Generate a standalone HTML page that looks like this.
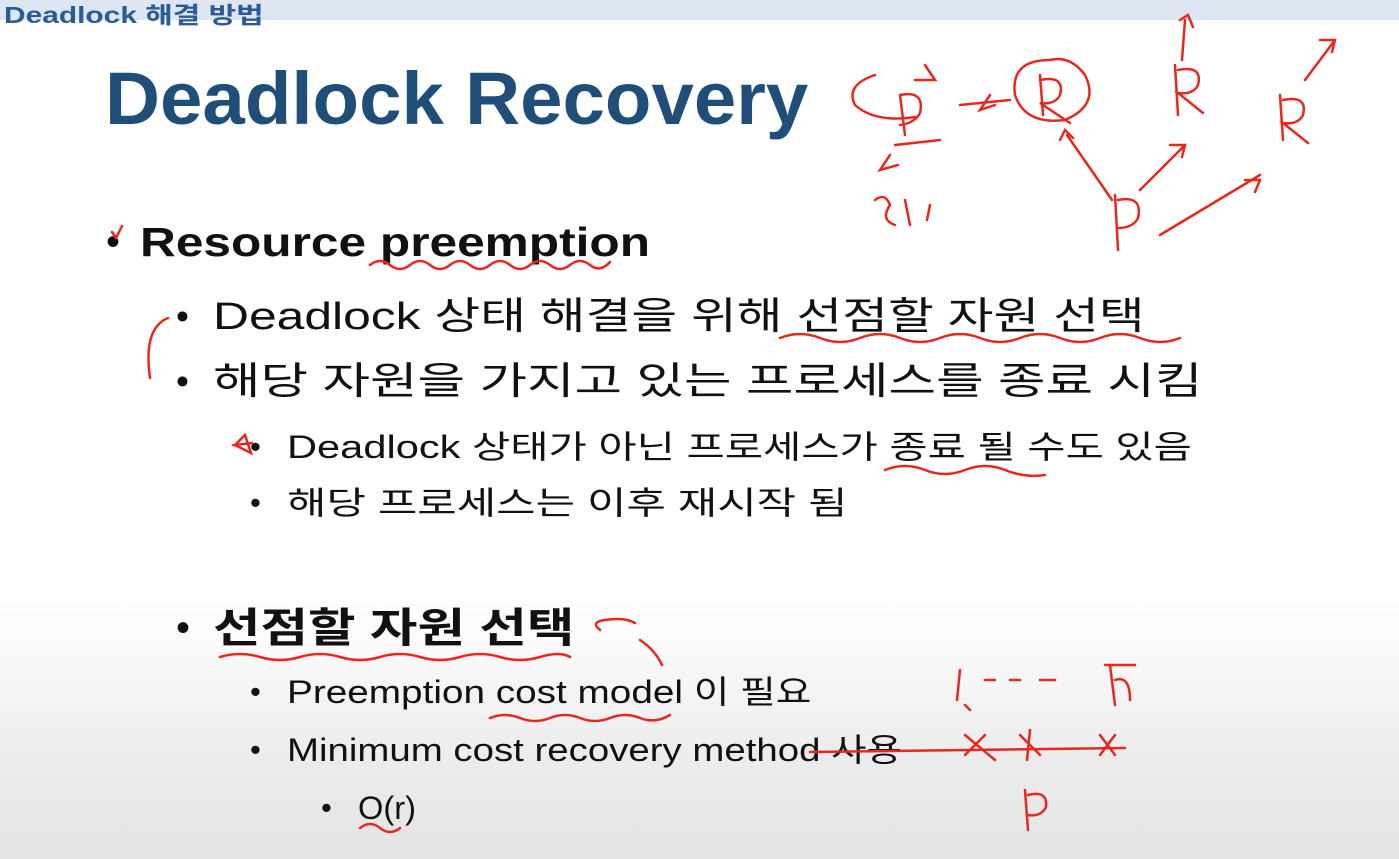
<!DOCTYPE html>
<html><head><meta charset="utf-8"><style>
html,body{margin:0;padding:0}
body{width:1399px;height:859px;position:relative;overflow:hidden;
background:linear-gradient(to bottom,#fff 0,#fff 600px,#ececec 760px,#e4e4e4 859px);
font-family:"Liberation Sans","Noto Sans CJK KR",sans-serif;color:#111}
.bar{position:absolute;left:0;top:0;width:1399px;height:20px;background:#dce7f3}
.t{position:absolute;white-space:nowrap;line-height:1;transform-origin:0 50%}
.b{position:absolute;line-height:1}
svg{position:absolute;left:0;top:0}
</style></head><body>
<div class="bar"></div>
<div class="t" style="left:4px;top:4px;font-size:23px;font-weight:bold;color:#2c5a96;transform:scaleX(1.3)">Deadlock 해결 방법</div>
<div class="t" style="left:105px;top:62px;font-size:74px;font-weight:bold;color:#1f4e79;transform:scaleX(1.03)">Deadlock Recovery</div>
<div class="b" style="left:106px;top:222px;font-size:40px">•</div>
<div class="t" style="left:140px;top:222px;font-size:41px;font-weight:bold;transform:scaleX(1.21)">Resource preemption</div>
<div class="b" style="left:176px;top:298px;font-size:37px">•</div>
<div class="t" style="left:213px;top:298px;font-size:38px;transform:scaleX(1.31)">Deadlock 상태 해결을 위해 선점할 자원 선택</div>
<div class="b" style="left:176px;top:363px;font-size:37px">•</div>
<div class="t" style="left:213px;top:363px;font-size:38px;transform:scaleX(1.36)">해당 자원을 가지고 있는 프로세스를 종료 시킴</div>
<div class="b" style="left:250px;top:431px;font-size:31px">•</div>
<div class="t" style="left:287px;top:431px;font-size:32px;transform:scaleX(1.3)">Deadlock 상태가 아닌 프로세스가 종료 될 수도 있음</div>
<div class="b" style="left:250px;top:487px;font-size:31px">•</div>
<div class="t" style="left:287px;top:487px;font-size:32px;transform:scaleX(1.34)">해당 프로세스는 이후 재시작 됨</div>
<div class="b" style="left:176px;top:608px;font-size:40px">•</div>
<div class="t" style="left:213px;top:608px;font-size:41px;font-weight:bold;transform:scaleX(1.26)">선점할 자원 선택</div>
<div class="b" style="left:250px;top:676px;font-size:31px">•</div>
<div class="t" style="left:287px;top:676px;font-size:32px;transform:scaleX(1.21)">Preemption cost model 이 필요</div>
<div class="b" style="left:250px;top:734px;font-size:31px">•</div>
<div class="t" style="left:287px;top:734px;font-size:32px;transform:scaleX(1.2)">Minimum cost recovery method 사용</div>
<div class="b" style="left:321px;top:792px;font-size:31px">•</div>
<div class="t" style="left:358px;top:792px;font-size:32px;transform:scaleX(1.02)">O(r)</div>
<svg width="1399" height="859" fill="none" stroke="#e8271e" stroke-width="2.5" stroke-linecap="round">
<path d="M370 265 q10 -8 20 0 t20 0 t20 0 t20 0 t20 0 t20 0 t20 0 t20 0 t20 0 t20 0 t20 0 t20 -3"/>
<path d="M780 338 q20 -8 40 0 t40 0 t40 0 t40 0 t40 0 t40 0 t40 0 t40 0 t40 0 t40 0"/>
<path d="M885 470 q20 -8 40 0 t40 0 t40 0 t40 5"/>
<path d="M220 657 q20 -6 40 0 t40 0 t40 0 t40 0 t40 0 t40 0 t40 0 t40 0 t30 0"/>
<path d="M490 718 q15 -6 30 0 t30 0 t30 0 t30 0 t30 0 t30 -3"/>
<path d="M360 828 q10 -8 20 0 t20 0"/>
<path d="M168 318 q-25 10 -18 60"/>
<path d="M112 232 l4 6 l6 -12"/>
<path d="M235 445 l10 -10 l6 18 l-16 -8 l18 -2 z"/>
<path d="M810 752 L1125 748"/>
<path d="M600 630 q-10 -8 5 -10 q20 -3 30 3 M640 640 q15 10 22 25"/>
<path d="M875 75 q-30 10 -20 30 q20 18 60 12 M915 80 l20 0 l-10 -15 M900 95 l5 40 M900 95 q25 -5 20 18 q-5 10 -20 12 M895 145 l45 -5 M890 155 l-10 15 l18 -5"/>
<path d="M1050 60 q-40 0 -35 35 q10 30 50 25 q35 -15 20 -45 q-15 -20 -35 -15 M1040 75 l3 40 M1040 80 q25 -5 20 15 q-5 10 -20 8 l30 20 M1010 100 l-50 5 M990 95 l-10 15 l15 -5"/>
<path d="M1175 65 l3 50 M1178 70 q25 -5 20 15 q-5 10 -20 8 l25 20 M1185 20 l-3 40 M1180 20 l8 -5 l5 12"/>
<path d="M1280 95 l3 45 M1283 100 q25 -5 20 15 q-5 10 -20 8 l25 20 M1305 80 l30 -40 M1320 40 l15 0 l-3 12"/>
<path d="M1115 195 l3 55 M1118 200 q25 -5 20 18 q-5 10 -20 10"/>
<path d="M1112 200 l-45 -65 M1060 140 l5 -10 l8 8 M1140 190 l45 -45 M1170 145 l15 0 l-3 12 M1160 235 l100 -60 M1245 180 l15 0 l-5 12"/>
<path d="M875 200 q10 -8 15 5 q-10 15 5 20 M905 200 l5 25 M930 205 l-3 15"/>
<path d="M960 670 l-3 30 M965 705 l5 5 M985 680 l10 0 M1010 680 l10 0 M1040 680 l15 0 M1110 665 l5 40 M1105 665 l30 0 M1115 680 q15 -5 15 20"/>
<path d="M965 735 l30 25 M985 735 l-20 20 M1020 735 l20 20 M1030 730 l-3 30 M1100 735 l15 20 M1115 735 l-15 20"/>
<path d="M1025 790 l3 40 M1028 795 q20 -5 18 12 q-5 10 -18 8"/>
</svg>
</body></html>
